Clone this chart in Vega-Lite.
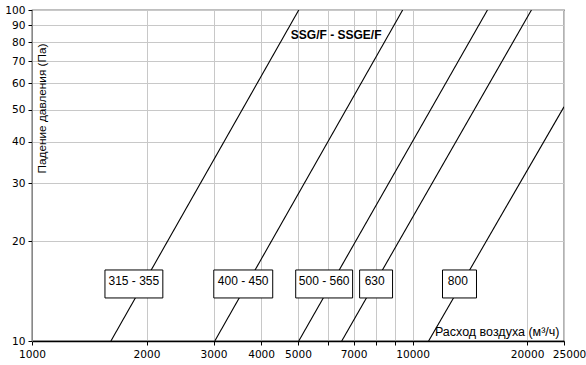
{
  "$schema": "https://vega.github.io/schema/vega-lite/v6.json",
  "autosize": "none",
  "width": 532,
  "height": 331,
  "padding": {"left": 32, "top": 10, "right": 22, "bottom": 24},
  "background": "white",
  "config": {
    "view": {"stroke": "#000", "strokeWidth": 1.2},
    "axis": {"labelFont": "DejaVu Sans", "labelFontSize": 10.6, "labelColor": "#000", "titleFont": "Liberation Sans", "titleFontWeight": "normal", "titleColor": "#000", "gridColor": "#c8c8c8", "gridWidth": 1, "tickColor": "#000", "tickSize": 4}
  },
  "datasets": {
    "curves": [
      {"series": "315 - 355", "q": 1612, "p": 10},
      {"series": "315 - 355", "q": 5023, "p": 100},
      {"series": "400 - 450", "q": 3022, "p": 10},
      {"series": "400 - 450", "q": 9419, "p": 100},
      {"series": "500 - 560", "q": 5023, "p": 10},
      {"series": "500 - 560", "q": 15734, "p": 100},
      {"series": "630", "q": 6515, "p": 10},
      {"series": "630", "q": 20530, "p": 100},
      {"series": "800", "q": 11020, "p": 10},
      {"series": "800", "q": 25000, "p": 51}
    ],
    "labels": [
      {"label": "315 - 355", "q1": 1555, "q2": 2207, "q": 1852, "p1": 13.49, "p2": 16.39, "p": 15.18},
      {"label": "400 - 450", "q1": 3004, "q2": 4291, "q": 3589, "p1": 13.49, "p2": 16.39, "p": 15.18},
      {"label": "500 - 560", "q1": 4931, "q2": 6958, "q": 5858, "p1": 13.49, "p2": 16.39, "p": 15.18},
      {"label": "630", "q1": 7259, "q2": 8860, "q": 7950, "p1": 13.49, "p2": 16.39, "p": 15.18},
      {"label": "800", "q1": 11987, "q2": 14723, "q": 13150, "p1": 13.49, "p2": 16.39, "p": 15.18}
    ]
  },
  "layer": [
    {
      "data": {"name": "curves"},
      "mark": {"type": "line", "color": "#000", "strokeWidth": 1.1, "clip": true},
      "encoding": {
        "x": {
          "field": "q", "type": "quantitative",
          "scale": {"type": "log", "domain": [1000, 25000], "nice": false, "zero": false},
          "axis": {
            "values": [1000, 2000, 3000, 4000, 5000, 6000, 7000, 8000, 9000, 10000, 20000, 25000],
            "labelExpr": "indexof([1000,2000,3000,4000,5000,7000,10000,20000,25000], datum.value) >= 0 ? '' + datum.value : ''",
            "labelPadding": 4,
            "labelFlush": false,
            "labelOverlap": false,
            "labelOffset": {"condition": {"test": "datum.value == 25000", "value": 5}, "value": 0},
            "domainColor": "#000", "domainWidth": 1.6,
            "title": "Расход воздуха (м³/ч)",
            "titleFontSize": 12.5,
            "titleAnchor": null,
            "titleX": 527, "titleY": -3, "titleAlign": "right", "titleBaseline": "bottom"
          }
        },
        "y": {
          "field": "p", "type": "quantitative",
          "scale": {"type": "log", "domain": [10, 100], "nice": false, "zero": false},
          "axis": {
            "values": [10, 20, 30, 40, 50, 60, 70, 80, 90, 100],
            "labelPadding": 3,
            "labelFlush": false,
            "labelOverlap": false,
            "domainColor": "#888",
            "title": "Падение давления (Па)",
            "titleFontSize": 11.8,
            "titleAngle": -90,
            "titleX": 4, "titleY": 33, "titleAlign": "right", "titleBaseline": "top"
          }
        },
        "detail": {"field": "series"}
      }
    },
    {
      "data": {"name": "labels"},
      "mark": {"type": "rect", "fill": "white", "stroke": "#000", "strokeWidth": 1},
      "encoding": {
        "x": {"field": "q1", "type": "quantitative"},
        "x2": {"field": "q2"},
        "y": {"field": "p1", "type": "quantitative"},
        "y2": {"field": "p2"}
      }
    },
    {
      "data": {"name": "labels"},
      "mark": {"type": "text", "font": "Liberation Sans", "fontSize": 12, "color": "#000", "align": "center", "baseline": "middle"},
      "encoding": {
        "x": {"field": "q", "type": "quantitative"},
        "y": {"field": "p", "type": "quantitative"},
        "text": {"field": "label"}
      }
    },
    {
      "data": {"values": [{"t": "SSG/F - SSGE/F", "q": 6300, "p": 84}]},
      "mark": {"type": "text", "font": "Liberation Sans", "fontSize": 12, "fontWeight": "bold", "color": "#000", "align": "center", "baseline": "middle"},
      "encoding": {
        "x": {"field": "q", "type": "quantitative"},
        "y": {"field": "p", "type": "quantitative"},
        "text": {"field": "t"}
      }
    }
  ]
}
